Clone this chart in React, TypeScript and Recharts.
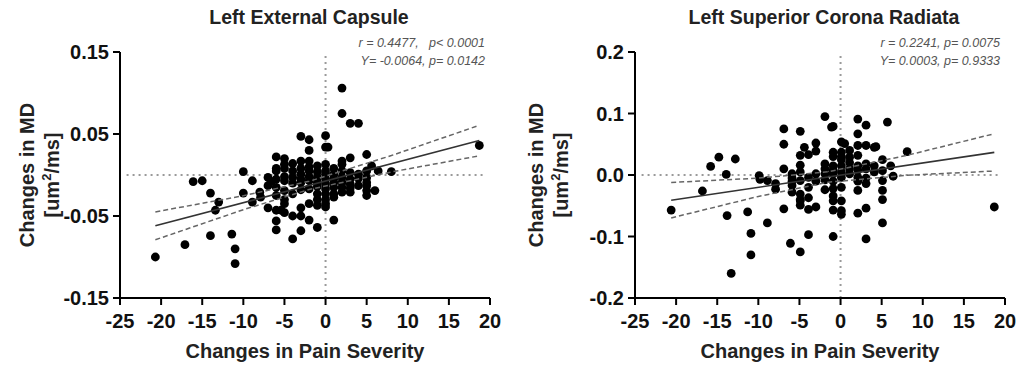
import { ScatterChart, Scatter, XAxis, YAxis, ReferenceLine } from 'recharts'

// pain severity change (x) vs MD change (y)
const leftPoints: [number, number][] = [
  [-20.7, -0.1], [-17.1, -0.085], [-16.1, -0.008], [-15.0, -0.007], [-14.0, -0.022], [-14.0, -0.074],
  [-13.4, -0.043], [-13.0, -0.033], [-11.4, -0.072], [-11.0, -0.09], [-11.0, -0.108], [-10.0, 0.004],
  [-10.0, -0.022], [-8.9, -0.007], [-8.9, -0.033], [-8.0, -0.021], [-7.9, -0.027],
  [-7, -0.003], [-7, -0.013], [-7, -0.04], [-6.6, -0.008],
  [-6, 0.022], [-6, 0.008], [-6, 0.005], [-6, -0.005], [-6, -0.015], [-6, -0.025], [-6, -0.043], [-6, -0.056], [-6, -0.067],
  [-5, 0.02], [-5, 0.013], [-5, 0.008], [-5, -0.002], [-5, -0.007], [-5, -0.019], [-5, -0.03], [-5, -0.035], [-5, -0.046], [-5.4, -0.043],
  [-4, 0.014], [-4, 0.005], [-4, -0.003], [-4, -0.01], [-4, -0.023], [-4, -0.05], [-4, -0.078],
  [-3, 0.047], [-3, 0.017], [-3, 0.008], [-3, 0.001], [-3, -0.005], [-3, -0.009], [-3, -0.018], [-3, -0.04], [-3, -0.05], [-3, -0.068],
  [-2, 0.043], [-2, 0.03], [-2, 0.017], [-2, 0.01], [-2, 0.005], [-2, -0.002], [-2, -0.007], [-2, -0.017], [-2, -0.035], [-2, -0.055],
  [-1, 0.011], [-1, 0.004], [-1, -0.003], [-1, -0.009], [-1, -0.014], [-1, -0.023], [-1, -0.03], [-1, -0.037], [-1, -0.064],
  [0, 0.048], [0.3, 0.034], [0, 0.034], [0, 0.013], [0, 0.005], [0, 0.001], [0, -0.005], [0, -0.011], [0, -0.017],
  [0, -0.023], [0, -0.03], [0, -0.035], [0, -0.039],
  [1, 0.008], [1, 0.001], [1, -0.004], [1, -0.009], [1, -0.015], [1, -0.023], [1, -0.027], [1, -0.055],
  [2, 0.106], [2, 0.075], [2, 0.017], [2, 0.013], [2, 0.005], [2, -0.003], [2, -0.009], [2, -0.015], [2, -0.021],
  [3, 0.063], [3, 0.021], [3, 0.003], [3, -0.005], [3, -0.011], [3, -0.016], [3, -0.021],
  [4, 0.063], [4, 0.001], [4, -0.004], [4, -0.013],
  [5, 0.025], [5, 0.005], [5, -0.003], [5, -0.009], [5, -0.013], [5, -0.019], [5, -0.025],
  [5.6, 0.011], [6, -0.019], [6.4, 0.005], [8, 0.004], [18.7, 0.036],
]

const rightPoints: [number, number][] = [
  [-20.6, -0.057], [-16.8, -0.026], [-15.8, 0.014], [-14.8, 0.029], [-13.9, 0.001], [-13.8, -0.066],
  [-12.8, 0.026], [-13.3, -0.16], [-11.3, -0.06], [-10.9, -0.095], [-10.9, -0.13], [-9.9, -0.001],
  [-9.8, -0.007], [-8.9, -0.009], [-8.9, -0.078], [-7.9, -0.014], [-7.9, -0.023],
  [-6.9, 0.075], [-6.9, 0.05], [-6.9, 0.01], [-6.9, -0.055], [-6.1, -0.111],
  [-5.9, 0.002], [-5.9, -0.005], [-5.9, -0.01], [-5.9, -0.017], [-5.9, -0.028],
  [-4.9, 0.071], [-4.9, 0.032], [-4.9, 0.016], [-4.9, 0.005], [-4.9, -0.009], [-4.9, -0.031], [-4.9, -0.04],
  [-4.9, -0.042], [-4.9, -0.049], [-4.9, -0.125], [-4.4, 0.045],
  [-3.9, 0.033], [-3.9, -0.004], [-3.9, -0.02], [-3.9, -0.037], [-3.9, -0.056], [-3.9, -0.097],
  [-3.0, 0.052], [-3.0, 0.039], [-3.0, 0.002], [-3.0, -0.01], [-3.0, -0.052],
  [-1.9, 0.095], [-1.9, 0.018], [-1.9, 0.01], [-1.9, 0.002], [-1.9, -0.008], [-1.9, -0.024],
  [-1.1, 0.078], [-0.9, 0.079], [-0.9, 0.037], [-0.9, 0.03], [-0.9, 0.015], [-0.9, 0.008], [-0.9, 0.002],
  [-0.9, -0.01], [-0.9, -0.022], [-0.9, -0.034], [-0.9, -0.042], [-0.9, -0.057], [-0.9, -0.1],
  [0.1, 0.054], [0.1, 0.037], [0.1, 0.03], [0.1, 0.025], [0.1, 0.015], [0.1, 0.005], [0.1, -0.004],
  [0.1, -0.02], [0.1, -0.042], [0.1, -0.058], [0.1, -0.064], [0.5, 0.051],
  [1.1, 0.04], [1.1, 0.029], [1.1, 0.02], [1.1, 0.01], [1.1, 0.002],
  [2.1, 0.091], [2.1, 0.067], [2.1, 0.048], [2.1, 0.032], [2.1, 0.015], [2.1, 0.008], [2.1, -0.004],
  [2.1, -0.01], [2.1, -0.025], [2.1, -0.062],
  [3.1, 0.081], [3.1, 0.048], [3.1, 0.018], [3.1, 0.01], [3.1, -0.005], [3.1, -0.014], [3.1, -0.054], [3.1, -0.104],
  [4.1, 0.045], [4.3, 0.046], [4.1, 0.015], [4.1, 0.005],
  [5.1, 0.025], [5.1, 0.007], [5.1, -0.009], [5.1, -0.025], [5.1, -0.04], [5.1, -0.078],
  [5.7, 0.086], [6.1, 0.015], [6.4, -0.002], [8.1, 0.038], [18.7, -0.052],
]

// regression line and 95% band, read at a few x positions
const leftFitX = [-20.7, 18.7]
const leftFitY = [-0.062, 0.042]
const leftBandX = [-20.7, -10, -2, 8, 18.7]
const leftUpper = [-0.045, -0.0253, -0.0077, 0.0237, 0.0606]
const leftLower = [-0.079, -0.0423, -0.0177, 0.0037, 0.0234]

const rightFitX = [-20.6, 18.7]
const rightFitY = [-0.041, 0.0368]
const rightBandX = [-20.6, -10, -1.5, 8, 18.7]
const rightUpper = [-0.0122, -0.0051, 0.0053, 0.0317, 0.0671]
const rightLower = [-0.0698, -0.0349, -0.0117, -0.0005, 0.0065]

const xTicks = [-25, -20, -15, -10, -5, 0, 5, 10, 15, 20]
const leftYTicks = [-0.15, -0.05, 0.05, 0.15]
const rightYTicks = [-0.2, -0.1, 0, 0.1, 0.2]

const FONT = '"Liberation Sans", Arial, sans-serif'

const toXY = (xs: number[], ys: number[]) => xs.map((x, i) => ({ x, y: ys[i] }))
const dot = (p: { cx?: number; cy?: number }) => <circle cx={p.cx} cy={p.cy} r={4.4} fill="#000" />
const none = () => <g />

interface PanelProps {
  left: number
  axisWidth: number
  rightMargin: number
  title: string
  stats: [string, string]
  points: [number, number][]
  yDomain: [number, number]
  yTicks: number[]
  yFormat: (v: number) => string
  fitX: number[]
  fitY: number[]
  bandX: number[]
  upper: number[]
  lower: number[]
}

function Panel(p: PanelProps) {
  const tick = { fill: '#111', fontSize: 20, fontWeight: 700, fontFamily: FONT }
  const plotLeft = p.left + p.axisWidth
  const plotRight = p.left + 509 - p.rightMargin
  const cx = (plotLeft + plotRight) / 2
  return (
    <>
      <div style={{ position: 'absolute', left: p.left, top: 0 }}>
        <ScatterChart
          width={509}
          height={368}
          margin={{ top: 52, right: p.rightMargin, bottom: 30, left: 0 }}
        >
          <XAxis
            type="number"
            dataKey="x"
            domain={[-25, 20]}
            ticks={xTicks}
            interval={0}
            allowDataOverflow
            height={40}
            tick={tick}
            tickSize={7}
            tickMargin={9}
            axisLine={{ stroke: '#000', strokeWidth: 2 }}
            tickLine={{ stroke: '#000', strokeWidth: 2 }}
          />
          <YAxis
            type="number"
            dataKey="y"
            domain={p.yDomain}
            ticks={p.yTicks}
            interval={0}
            allowDataOverflow
            width={p.axisWidth}
            tick={tick}
            tickSize={7}
            tickMargin={4}
            tickFormatter={p.yFormat}
            axisLine={{ stroke: '#000', strokeWidth: 2 }}
            tickLine={{ stroke: '#000', strokeWidth: 2 }}
          />
          <ReferenceLine x={0} stroke="#9a9a9a" strokeWidth={2} strokeDasharray="2 4" />
          <ReferenceLine
            segment={[{ x: -24.2, y: 0 }, { x: 19.3, y: 0 }]}
            stroke="#9a9a9a"
            strokeWidth={2}
            strokeDasharray="2 4"
          />
          <Scatter
            data={p.points.map(([x, y]) => ({ x, y }))}
            shape={dot}
            isAnimationActive={false}
          />
          <Scatter
            data={toXY(p.bandX, p.upper)}
            line={{ stroke: '#666', strokeWidth: 1.5, strokeDasharray: '5 3' }}
            shape={none}
            isAnimationActive={false}
          />
          <Scatter
            data={toXY(p.bandX, p.lower)}
            line={{ stroke: '#666', strokeWidth: 1.5, strokeDasharray: '5 3' }}
            shape={none}
            isAnimationActive={false}
          />
          <Scatter
            data={toXY(p.fitX, p.fitY)}
            line={{ stroke: '#333', strokeWidth: 1.6 }}
            shape={none}
            isAnimationActive={false}
          />
        </ScatterChart>
      </div>
      <div
        style={{
          position: 'absolute', left: cx - 246, width: 500, top: 5, textAlign: 'center',
          fontFamily: FONT, fontWeight: 700, fontSize: 19.5, lineHeight: '24px', color: '#222',
        }}
      >
        {p.title}
      </div>
      <div
        style={{
          position: 'absolute', right: 1018 - plotRight + 5, top: 34, textAlign: 'right',
          fontFamily: FONT, fontStyle: 'italic', fontSize: 12.5, lineHeight: '18px', color: '#555',
          whiteSpace: 'pre',
        }}
      >
        {p.stats[0]}
        <br />
        {p.stats[1]}
      </div>
      <div
        style={{
          position: 'absolute', left: cx - 200, width: 400, top: 340, textAlign: 'center',
          fontFamily: FONT, fontWeight: 700, fontSize: 20, color: '#222',
        }}
      >
        Changes in Pain Severity
      </div>
      <div
        style={{
          position: 'absolute', left: p.left + 39.5, top: 175, transform: 'translate(-50%, -50%) rotate(-90deg)',
          fontFamily: FONT, fontWeight: 700, fontSize: 20, lineHeight: '25px', color: '#222',
          textAlign: 'center', whiteSpace: 'nowrap',
        }}
      >
        Changes in MD
        <br />
        [um<sup style={{ fontSize: 13, lineHeight: 0 }}>2</sup>/ms]
      </div>
    </>
  )
}

export default function App() {
  return (
    <div style={{ position: 'absolute', left: 0, top: 0, width: 1018, height: 368, background: '#fff', overflow: 'hidden' }}>
      <Panel
        left={0}
        axisWidth={120}
        rightMargin={19}
        title="Left External Capsule"
        stats={['r = 0.4477,   p< 0.0001', 'Y= -0.0064, p= 0.0142']}
        points={leftPoints}
        yDomain={[-0.15, 0.15]}
        yTicks={leftYTicks}
        yFormat={v => v.toFixed(2)}
        fitX={leftFitX}
        fitY={leftFitY}
        bandX={leftBandX}
        upper={leftUpper}
        lower={leftLower}
      />
      <Panel
        left={509}
        axisWidth={126}
        rightMargin={13}
        title="Left Superior Corona Radiata"
        stats={['r = 0.2241, p= 0.0075', 'Y= 0.0003, p= 0.9333']}
        points={rightPoints}
        yDomain={[-0.2, 0.2]}
        yTicks={rightYTicks}
        yFormat={v => v.toFixed(1)}
        fitX={rightFitX}
        fitY={rightFitY}
        bandX={rightBandX}
        upper={rightUpper}
        lower={rightLower}
      />
    </div>
  )
}
